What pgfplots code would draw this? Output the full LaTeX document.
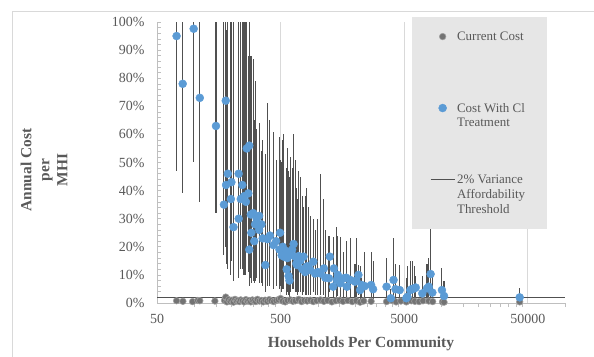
\documentclass[border=0pt]{standalone}
\usepackage{pgfplots}
\pgfplotsset{compat=1.18}
\usepackage{pgfplotstable}
\usepackage{fontspec}
\setmainfont{Liberation Serif}
\definecolor{blueC}{HTML}{5B9BD5}
\definecolor{txt}{HTML}{595959}
\definecolor{gridc}{HTML}{D9D9D9}
\definecolor{axc}{HTML}{BFBFBF}
\definecolor{legc}{HTML}{E6E6E6}
\definecolor{errc}{HTML}{505050}
\definecolor{curf}{HTML}{737373}
\definecolor{curd}{HTML}{A0A0A0}

\pgfplotstableread{
x y lo hi
72 95 47 100
80.7 78 39 100
99 97.6 50 100
111 73 36 100
150 63 32 100
174 35 17 100
180 72 20 100
181 42 14 97
187 46 12 100
198 37 10 100
200 43 15 100
208 27 8 100
229 46 13 100
229 30 9 100
238 37 12 100
245 42 12 100
253 38 10 100
262 36 10 100
266 55 18 100
274 39 11 88
279 56 15 100
279 19 6 79
287 31.5 9 88
290 25 7 88
300 32 8 87
306 22 7 65
311 28 8 79
320 30 9 62
335 31 8 64
335 26 7 59
350 28 7 54
358 23 6 58
376 13.5 4 53
391 22.7 6 71
410 24 6 65
438 20.6 5 61
460 22 6 51
490 19 5 59
495 25 6 51
510 17 4 50
520 20 5 58
530 16.5 5 60
555 18.5 5 48
560 12 3 41
567 16 4 55
580 9.6 3 47
590 8 2 45
600 17 4 52
620 19 5 48
637 21 5 60
655 16.5 4 51
670 14 4 41
680 13.5 3 37
700 16.7 4 47
720 15 4 45
750 12 3 38
767 16.5 4 34
790 11 3 38
815 13 3 41
840 13 3 34
870 11.7 3 31
920 14.7 4 30
950 10.5 3 26
1000 11 3 30
1050 10.5 3 46
1120 12.3 3 37
1150 9 2 26
1230 8.8 2 24
1250 16.5 4 24
1330 5.8 2 23.5
1350 12.3 3 22
1425 8.2 2 27
1450 10 2.5 24
1520 7 2 23.5
1620 8.8 2 18
1700 9 2 22
1720 5.8 1.5 16
1830 8.2 2 23
2000 7.6 2 14
2050 8 2 23
2130 10 3 13.5
2200 4.6 1 13
2270 6.4 2 9
2400 6 1.5 18
2700 6.4 2 18
2800 4.9 1 15
3600 5.8 1.5 16
3900 1.7 0.5 5
4100 8.2 2 23
4250 4.9 1 14
4600 4.6 1 13.5
5200 1.7 0.5 9
5300 2.2 0.5 13
5600 4.6 1 15
5800 5 1 15
6050 5.2 1.5 13
6200 5.5 1 9.5
7000 3.4 1 9.5
7650 5.2 1 14
7900 5.8 1.5 16
8180 10.3 2 35
8450 3.7 1 11
10100 4.6 1 12.5
10500 2.5 0.5 8
43000 2 0.5 5.3
}\withcl

\pgfplotstableread{
x y
72 0.8
81 0.6
97 0.5
107 0.9
111 0.8
147 0.7
176 0.9
180 2.1
184 0.4
190 1.2
196 0.6
202 1.0
208 0.3
214 1.3
220 0.7
226 0.9
232 0.5
238 1.1
246 0.8
254 0.4
262 1.2
270 0.7
278 0.9
287 0.4
296 1.1
305 0.8
315 0.5
325 1.3
337 0.7
350 0.9
362 0.4
375 1.0
390 0.6
405 1.2
420 0.8
440 0.5
460 0.9
480 1.2
500 1.6
520 0.7
545 0.4
570 0.9
600 1.1
630 0.6
660 0.8
700 1.3
740 0.5
780 0.9
820 0.7
870 1.0
920 0.5
980 0.8
1050 1.1
1120 0.6
1200 0.9
1300 0.4
1400 0.8
1500 1.0
1600 0.6
1750 0.9
1900 0.5
2050 0.8
2200 0.3
2350 0.7
2700 0.6
3600 0.5
4000 0.9
4300 0.4
4700 0.7
5200 0.4
5700 0.8
6100 0.6
6600 0.5
7100 0.8
7900 0.7
8500 0.5
10200 0.4
10500 0.3
43000 0.4
}\current

\begin{document}
\begin{tikzpicture}
\path[use as bounding box] (0,0) rectangle (594bp,357bp);
\draw[gridc, line width=0.8bp] (12bp,0bp) -- (12bp,346bp) -- (594bp,346bp);
\begin{axis}[
  at={(157bp,54bp)}, anchor=south west,
  scale only axis, width=408bp, height=281bp,
  xmode=log, xmin=50, xmax=100000, ymin=0, ymax=100,
  axis x line*=bottom, axis y line*=left,
  axis line style={draw=axc, line width=0.8bp, -},
  xtick={50,500,5000,50000}, xticklabels={50,500,5000,50000},
  minor xtick={100,150,200,250,300,350,400,450,1000,1500,2000,2500,3000,3500,4000,4500,10000,15000,20000,25000,30000,35000,40000,45000,100000},
  ytick={0,10,...,100},
  yticklabels={0\%,10\%,20\%,30\%,40\%,50\%,60\%,70\%,80\%,90\%,100\%},
  minor y tick num=4,
  xmajorgrids, major grid style={gridc, line width=0.8bp},
  major tick length=4bp, minor tick length=4bp,
  tick style={axc, line width=0.6bp},
  minor x tick style={yshift=-4bp},
  major x tick style={draw=none},
  tick label style={font=\fontsize{14}{16}\selectfont, text=txt},
  xticklabel style={yshift=-8bp},
  yticklabel style={xshift=-9bp},
  xlabel={Households Per Community},
  xlabel style={at={(axis description cs:0.5,-0.16)}, anchor=base, font=\fontsize{15.5}{18}\bfseries, text=txt},
  ylabel={Annual Cost\\per\\MHI},
  ylabel style={at={(axis description cs:-0.277,0.473)}, anchor=center, align=center, font=\fontsize{15.5}{18}\bfseries, text=txt},
  legend image code/.code={\draw[mark repeat=2,mark phase=2,#1] plot coordinates {(0bp,4bp) (12bp,4bp) (24bp,4bp)};},
  legend style={at={(axis description cs:0.625,1.018)}, anchor=north west, fill=legc, draw=none,
    font=\fontsize{13}{15}\selectfont, text=txt, row sep=24bp, inner xsep=18bp, inner ysep=11bp,
    cells={anchor=base west}, nodes={text depth=33bp}},
]
\addplot[errc, line width=0.9bp, forget plot] coordinates {(50,2) (100000,2)};
\addplot[only marks, mark=*, mark size=3.3bp, mark options={fill=curf, draw=curd, line width=0.6bp}] table[x=x, y=y] {\current};
\addlegendentry{\parbox[t]{70bp}{\strut Current Cost}}
\addplot[only marks, mark=*, mark size=4bp, mark options={fill=blueC, draw=blueC},
  error bars/.cd, y dir=both, y explicit, error mark=none,
  error bar style={errc, line width=1.1bp}]
  table[x=x, y=y, y error plus expr={\thisrow{hi}-\thisrow{y}}, y error minus expr={\thisrow{y}-\thisrow{lo}}] {\withcl};
\addlegendentry{\parbox[t]{70bp}{\strut Cost With Cl\\Treatment}}
\addlegendimage{errc, line width=0.9bp}
\addlegendentry{\parbox[t]{70bp}{\strut 2\% Variance\\Affordability\\Threshold}}
\end{axis}
\end{tikzpicture}
\end{document}
